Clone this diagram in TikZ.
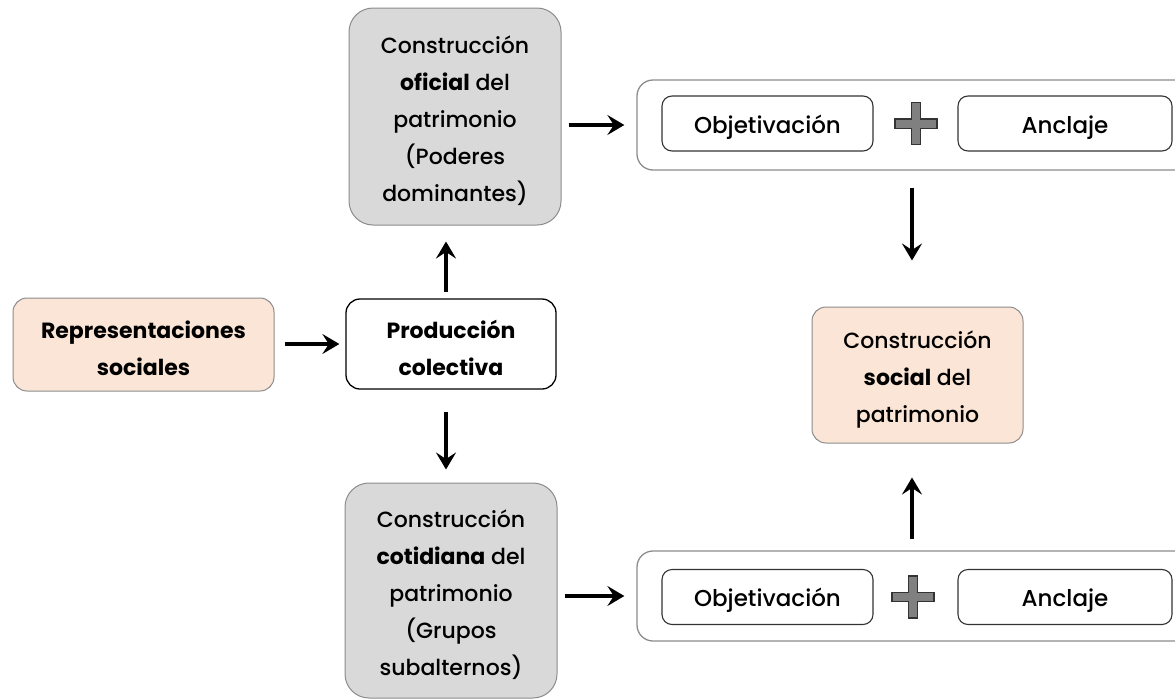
\documentclass[tikz,border=0pt]{standalone}
\usepackage{fontspec}
\setmainfont{Poppins}[UprightFont={* Medium}, BoldFont={* Bold}]
\usetikzlibrary{arrows.meta}
\definecolor{peach}{HTML}{FBE5D6}
\definecolor{boxgray}{HTML}{D9D9D9}
\definecolor{edgegray}{HTML}{8C8C8C}
\definecolor{plusgray}{HTML}{808080}
\newcommand{\lowstrut}{\rule{0pt}{26pt}}
\tikzset{
  txt/.style={font=\fontsize{22}{37}\selectfont, align=center, inner sep=0pt},
  peachbox/.style={txt, rectangle, rounded corners=14pt, draw=edgegray, line width=1pt, fill=peach},
  graybox/.style={txt, rectangle, rounded corners=24pt, draw=edgegray, line width=1pt, fill=boxgray},
  whitebox/.style={txt, rectangle, rounded corners=14pt, draw=black, line width=1.3pt, fill=white},
  smallbox/.style={txt, font=\fontsize{23}{30}\selectfont, rectangle, rounded corners=10pt, draw=black!80, line width=1.1pt, fill=white},
  container/.style={rectangle, rounded corners=16pt, draw=edgegray, line width=1.3pt, inner sep=0pt},
  arr/.style={line width=3.3pt, -{Stealth[length=17pt,width=20pt,inset=6.5pt]}},
  plussign/.style={draw=black!80, line width=1.4pt, fill=plusgray}
}
\begin{document}
\begin{tikzpicture}[x=1pt,y=-1pt]
\useasboundingbox (0,0) rectangle (1175,699);
\clip (0,0) rectangle (1175,699);
% main boxes
\node[peachbox, minimum width=261pt, minimum height=93pt] (rep) at (143.5,344.5)
  {\lowstrut\bfseries Representaciones\\\bfseries sociales};
\node[whitebox, minimum width=210pt, minimum height=90pt] (prod) at (451,344)
  {\lowstrut\bfseries Producción\\\bfseries colectiva};
\node[graybox, minimum width=212pt, minimum height=217pt] (ofi) at (455,116.5)
  {\lowstrut Construcción\\\textbf{oficial} del\\patrimonio\\(Poderes\\dominantes)};
\node[graybox, minimum width=212pt, minimum height=215pt] (coti) at (451,590.5)
  {\lowstrut Construcción\\\textbf{cotidiana} del\\patrimonio\\(Grupos\\subalternos)};
\node[peachbox, minimum width=211pt, minimum height=136pt] (soc) at (917.5,375)
  {\lowstrut Construcción\\\textbf{social} del\\patrimonio};
% top container
\node[container, minimum width=560pt, minimum height=90pt] (cont1) at (917,125) {};
\node[smallbox, minimum width=211pt, minimum height=55pt] (obj1) at (767.5,123.5) {\lowstrut Objetivación};
\node[smallbox, minimum width=214pt, minimum height=55pt] (anc1) at (1065,123.5) {\lowstrut Anclaje};
\coordinate (plus1) at (916,123.5);
\draw[plussign] ([shift={(-4.7,-21)}]plus1) -- ++(9.4,0) -- ++(0,16.3) -- ++(16.3,0) -- ++(0,9.4)
  -- ++(-16.3,0) -- ++(0,16.3) -- ++(-9.4,0) -- ++(0,-16.3) -- ++(-16.3,0) -- ++(0,-9.4)
  -- ++(16.3,0) -- cycle;
% bottom container
\node[container, minimum width=560pt, minimum height=90pt] (cont2) at (917,596) {};
\node[smallbox, minimum width=211pt, minimum height=55pt] (obj2) at (767.5,597) {\lowstrut Objetivación};
\node[smallbox, minimum width=214pt, minimum height=55pt] (anc2) at (1065,597) {\lowstrut Anclaje};
\coordinate (plus2) at (913,597);
\draw[plussign] ([shift={(-4.7,-21)}]plus2) -- ++(9.4,0) -- ++(0,16.3) -- ++(16.3,0) -- ++(0,9.4)
  -- ++(-16.3,0) -- ++(0,16.3) -- ++(-9.4,0) -- ++(0,-16.3) -- ++(-16.3,0) -- ++(0,-9.4)
  -- ++(16.3,0) -- cycle;
% guide coordinates for vertical arrows
\coordinate (vx1) at (446,0);
\coordinate (vx2) at (912,0);
% connectors
\draw[arr, shorten <=10pt, shorten >=6pt] (rep.east |- prod.west) -- (prod.west);
\draw[arr, shorten <=6pt, shorten >=16pt] (prod.north -| vx1) -- (ofi.south -| vx1);
\draw[arr, shorten <=22pt, shorten >=13pt] (prod.south -| vx1) -- (coti.north -| vx1);
\draw[arr, shorten <=7pt, shorten >=12pt] (ofi.east |- cont1.west) -- (cont1.west);
\draw[arr, shorten <=7pt, shorten >=12pt] (coti.east |- cont2.west) -- (cont2.west);
\draw[arr, shorten <=17pt, shorten >=46pt] (cont1.south -| vx2) -- (soc.north -| vx2);
\draw[arr, shorten <=11pt, shorten >=34pt] (cont2.north -| vx2) -- (soc.south -| vx2);
\end{tikzpicture}
\end{document}
